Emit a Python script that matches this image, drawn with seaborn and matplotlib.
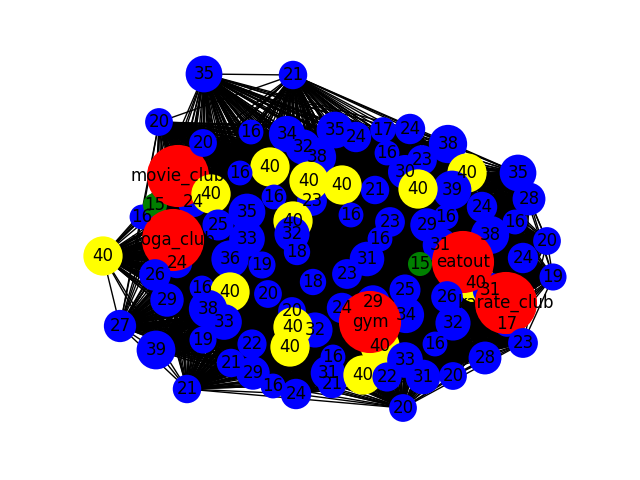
import itertools

import numpy as np
import pandas as pd
import matplotlib
matplotlib.use("Agg")
import matplotlib.pyplot as plt
from matplotlib.collections import LineCollection
import seaborn as sns

# node labels (age, or club name) and layout positions
# order matters: later nodes are painted over earlier ones
node_label = [
    "24", "24", "29", "40", "40", "31", "17", "16", "15", "38", "34", "24", "31",
    "movie_club", "yoga_club", "gym", "eatout", "karate_club",
    "35", "21", "20", "20", "16", "34", "32", "38", "35", "24", "17", "24",
    "38", "16", "23", "30", "40", "35", "28", "16", "24", "39", "40", "21",
    "40", "23", "40", "40", "16", "40", "25", "35", "16", "40", "32", "18",
    "33", "36", "19", "40", "26", "29", "27", "39", "16", "40", "38", "33",
    "19", "20", "21", "21", "22", "29", "16", "24", "20", "32", "40", "40",
    "18", "23", "31", "16", "23", "16", "29", "16", "15", "25", "33", "16",
    "31", "21", "40", "22", "31", "20", "20", "16", "28", "23", "32", "26",
    "24", "20", "19",
]
node_x = [
    193, 177, 373, 380, 476, 490, 507, 142, 155, 490, 406, 342, 440,
    178, 173, 370, 463, 506,
    204, 293, 159, 203, 251, 287, 303, 317, 335, 356, 383, 410,
    448, 387, 422, 405, 467, 518, 529, 515, 482, 452, 418, 375,
    342, 312, 309, 270, 240, 211, 218, 247, 274, 293, 292, 297,
    247, 230, 262, 103, 155, 167, 120, 156, 202, 230, 208, 224,
    203, 268, 187, 231, 252, 253, 273, 296, 292, 315, 293, 290,
    313, 347, 367, 380, 390, 351, 427, 446, 420, 405, 405, 333,
    328, 332, 363, 387, 423, 453, 403, 435, 485, 523, 453, 447,
    523, 547, 553,
]
node_y = [
    202, 263, 302, 346, 283, 290, 324, 217, 205, 235, 315, 308, 245,
    176, 240, 322, 262, 303,
    74, 75, 122, 143, 132, 134, 147, 157, 130, 137, 130, 129,
    144, 153, 160, 172, 173, 173, 199, 222, 207, 190, 189, 190,
    185, 201, 181, 167, 173, 194, 225, 212, 197, 221, 234, 252,
    239, 259, 265, 256, 275, 300, 326, 350, 288, 292, 309, 322,
    340, 294, 389, 363, 344, 373, 386, 394, 311, 330, 327, 347,
    282, 274, 259, 239, 222, 215, 225, 217, 264, 290, 360, 357,
    373, 384, 375, 377, 377, 376, 408, 344, 358, 343, 323, 297,
    258, 241, 277,
]

clubs = ["movie_club", "yoga_club", "gym", "eatout", "karate_club"]

# pairs (node indices) that are visibly NOT linked in the picture:
# top-left 35 / 20 and the far-left 40
missing_edges = [(18, 20), (20, 57), (18, 57)]


def node_kind(label):
    if label in clubs:
        return "club"
    if label == "40":
        return "forty"
    if label == "15":
        return "fifteen"
    return "person"


def node_area(label):
    # marker area in points^2: clubs fixed, people scale with age
    if label in clubs:
        return 2000
    return int(label) * 20


df = pd.DataFrame({"x": node_x, "y": node_y, "label": node_label})
df["kind"] = df["label"].map(node_kind)
df["area"] = df["label"].map(node_area)

# almost everybody is linked to everybody else
edges = [
    e for e in itertools.combinations(range(len(df)), 2)
    if e not in missing_edges
]
segments = [
    [(df.x[a], df.y[a]), (df.x[b], df.y[b])] for a, b in edges
]

fig = plt.figure(figsize=(6.4, 4.8), dpi=100)
ax = fig.add_axes([0, 0, 1, 1])

ax.add_collection(LineCollection(segments, colors="k", linewidths=1.0, zorder=1))

palette = {"club": "red", "forty": "yellow", "fifteen": "green", "person": "blue"}
sizes = {a: a for a in sorted(df["area"].unique())}
sns.scatterplot(
    data=df, x="x", y="y", hue="kind", palette=palette,
    size="area", sizes=sizes, linewidth=0, legend=False, ax=ax, zorder=2,
)

for _, row in df.iterrows():
    ax.text(row.x, row.y, row.label, fontsize=12, color="k",
            ha="center", va="center", zorder=3)

ax.set_xlim(0, 640)
ax.set_ylim(480, 0)
ax.axis("off")

fig.savefig("out.png", dpi=100)
